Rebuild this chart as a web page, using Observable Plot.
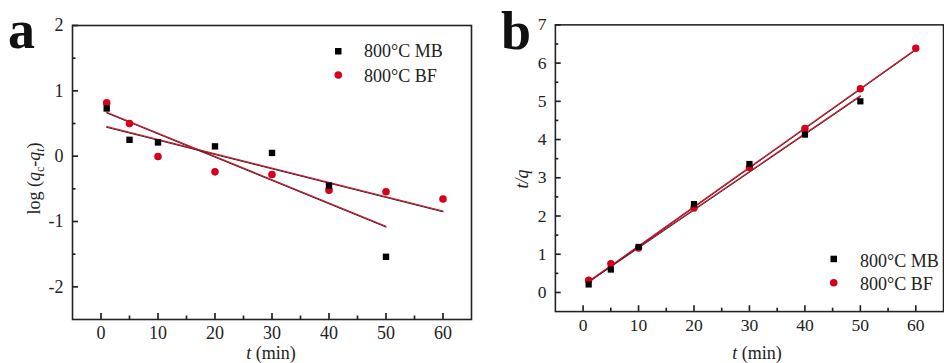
<!DOCTYPE html>
<html>
<head>
<meta charset="utf-8">
<script src="https://cdn.jsdelivr.net/npm/d3@7"></script>
<script src="https://cdn.jsdelivr.net/npm/@observablehq/plot@0.6"></script>
<style>
  html, body { margin: 0; padding: 0; background: #fff; }
  #wrap { position: relative; width: 944px; height: 363px; overflow: hidden; background: #fff; }
  #pa, #pb { position: absolute; top: 0; }
  #pa { left: 0; }
  #pb { left: 472px; }
  #overlay { position: absolute; left: 0; top: 0; pointer-events: none; }
  text { font-family: "Liberation Serif", "DejaVu Serif", serif; }
</style>
</head>
<body>
<div id="wrap">
  <div id="pa"></div>
  <div id="pb"></div>
  <svg id="overlay" width="944" height="363" xmlns="http://www.w3.org/2000/svg">
    <text x="8" y="48" font-size="54" font-weight="bold" fill="#111">a</text>
    <text x="501" y="49" font-size="54" font-weight="bold" fill="#111">b</text>

    <rect x="335" y="48" width="6.5" height="6.5" fill="#000"></rect>
    <circle cx="338.3" cy="75" r="3.8" fill="#d6001c"></circle>
    <text x="364" y="57.3" font-size="18" fill="#222">800°C MB</text>
    <text x="364" y="81.5" font-size="18" fill="#222">800°C BF</text>

    <rect x="830.5" y="255.7" width="6.5" height="6.5" fill="#000"></rect>
    <circle cx="833.7" cy="282.7" r="3.8" fill="#d6001c"></circle>
    <text x="860" y="266.5" font-size="18" fill="#222">800°C MB</text>
    <text x="860" y="289.5" font-size="18" fill="#222">800°C BF</text>

    <text x="271" y="359" font-size="18" fill="#222" text-anchor="middle"><tspan font-style="italic">t</tspan> (min)</text>
    <text x="757" y="359" font-size="18" fill="#222" text-anchor="middle"><tspan font-style="italic">t</tspan> (min)</text>

    <text transform="translate(40,178.5) rotate(-90)" font-size="18" fill="#222" text-anchor="middle">log (<tspan font-style="italic">q</tspan><tspan font-size="12" dy="4">c</tspan><tspan dy="-4">-</tspan><tspan font-style="italic">q</tspan><tspan font-size="12" font-style="italic" dy="4">t</tspan><tspan dy="-4">)</tspan></text>
    <text transform="translate(528,179) rotate(-90)" font-size="18" fill="#222" text-anchor="middle" font-style="italic">t/q</text>
  </svg>
</div>
<script>
// ---------- Data ----------
// Panel a: pseudo-first-order, log(qe - qt)
const tMB = [1, 5, 10, 20, 30, 40, 50];
const logMB = [0.73, 0.25, 0.21, 0.15, 0.05, -0.45, -1.54];
const tBF = [1, 5, 10, 20, 30, 40, 50, 60];
const logBF = [0.815, 0.50, -0.005, -0.24, -0.28, -0.52, -0.545, -0.655];

// Panel b: pseudo-second-order, t/q
const tqMB = [0.21, 0.60, 1.19, 2.31, 3.36, 4.13, 5.00];
const tqBF = [0.32, 0.75, 1.16, 2.21, 3.27, 4.29, 5.33, 6.39];

// Axes
const xDomain = [-5, 65];
const xMajor = [0, 10, 20, 30, 40, 50, 60];
const xMinor = [5, 15, 25, 35, 45, 55];
const yDomainA = [-2.5, 2];
const yMajorA = [-2, -1, 0, 1, 2];
const yMinorA = [-1.5, -0.5, 0.5, 1.5];
const yDomainB = [-0.5, 7];
const yMajorB = [0, 1, 2, 3, 4, 5, 6, 7];
const yMinorB = [0.5, 1.5, 2.5, 3.5, 4.5, 5.5, 6.5];

const RED = "#d6001c";
const LINE_RED = "#d0102a";
const AXIS = "#222";
const FONT = "Liberation Serif";

function rows(xs, ys) { return xs.map((x, i) => ({x, y: ys[i]})); }

function panel({width, marginLeft, yDomain, yMajor, yMinor, mb, bf}) {
  const H = 363, mt = 25, mb_ = 44, mr = 1;
  const fh = H - mt - mb_;            // frame height in px
  const fw = width - marginLeft - mr; // frame width in px
  const lab = {fontFamily: FONT, fontSize: 18, fill: AXIS, label: null, tickSize: 0, tickFormat: d => String(d)};
  return Plot.plot({
    width, height: H,
    marginLeft, marginRight: mr, marginTop: mt, marginBottom: mb_,
    x: {domain: xDomain},
    y: {domain: yDomain},
    style: {fontFamily: FONT, fontSize: "18px", color: AXIS, background: "transparent", overflow: "visible"},
    marks: [
      Plot.axisX({ticks: xMajor, tickPadding: 7, ...lab}),
      Plot.axisY({ticks: yMajor, tickPadding: 9, ...lab}),
      // inward tick marks
      Plot.ruleX(xMajor, {x: d => d, insetTop: fh - 6, stroke: AXIS, strokeWidth: 1.7}),
      Plot.ruleX(xMinor, {x: d => d, insetTop: fh - 3.5, stroke: AXIS, strokeWidth: 1.7}),
      Plot.ruleY(yMajor, {y: d => d, insetRight: fw - 6, stroke: AXIS, strokeWidth: 1.7}),
      Plot.ruleY(yMinor, {y: d => d, insetRight: fw - 3.5, stroke: AXIS, strokeWidth: 1.7}),
      Plot.linearRegressionY(mb, {x: "x", y: "y", ci: 0, stroke: "#222", strokeWidth: 1, dy: 0.8}),
      Plot.linearRegressionY(mb, {x: "x", y: "y", ci: 0, stroke: LINE_RED, strokeWidth: 1.2}),
      Plot.linearRegressionY(bf, {x: "x", y: "y", ci: 0, stroke: "#222", strokeWidth: 1, dy: 0.8}),
      Plot.linearRegressionY(bf, {x: "x", y: "y", ci: 0, stroke: LINE_RED, strokeWidth: 1.2}),
      Plot.dot(bf, {x: "x", y: "y", r: 3.8, fill: RED, stroke: "none"}),
      Plot.dot(mb, {x: "x", y: "y", r: 3.6, symbol: "square", fill: "#000", stroke: "none"}),
      Plot.frame({stroke: AXIS, strokeWidth: 1.6})
    ]
  });
}

document.getElementById("pa").append(panel({
  width: 472, marginLeft: 72, yDomain: yDomainA, yMajor: yMajorA, yMinor: yMinorA,
  mb: rows(tMB, logMB), bf: rows(tBF, logBF)
}));
document.getElementById("pb").append(panel({
  width: 484, marginLeft: 85, yDomain: yDomainB, yMajor: yMajorB, yMinor: yMinorB,
  mb: rows(tMB, tqMB), bf: rows(tBF, tqBF)
}));
</script>
</body>
</html>
